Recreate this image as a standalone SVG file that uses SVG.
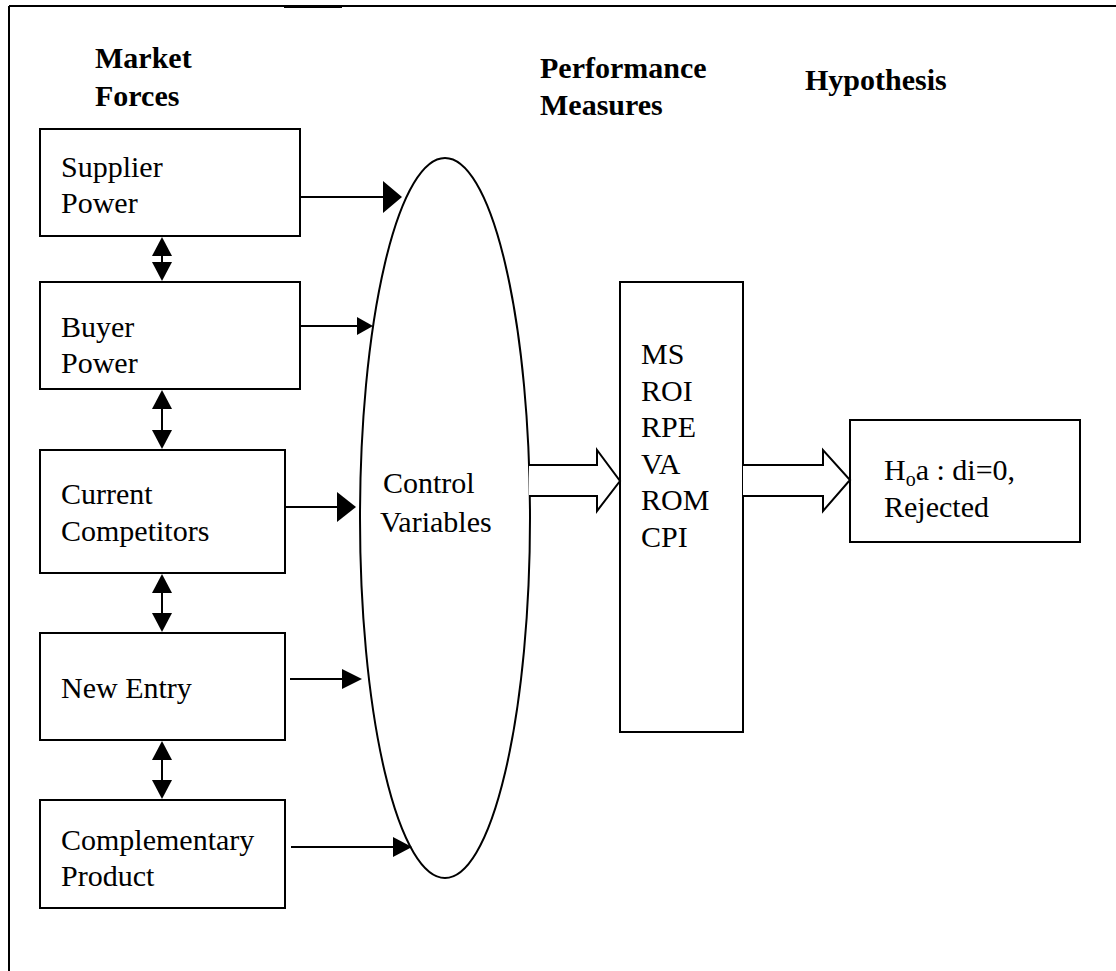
<svg xmlns="http://www.w3.org/2000/svg" width="1116" height="971" viewBox="0 0 1116 971">
<style>
.box{fill:#fff;stroke:#000;stroke-width:2}
.t{font-family:"Liberation Serif","Times New Roman",serif;font-size:30px;fill:#000}
.h{font-family:"Liberation Serif","Times New Roman",serif;font-size:30px;font-weight:bold;fill:#000}
.ln{stroke:#000;stroke-width:2;fill:none}
.blk{fill:#fff;stroke:#000;stroke-width:2;stroke-linejoin:miter}
.hd{fill:#000}
</style>
<rect x="0" y="0" width="1116" height="971" fill="#fff"/>
<g id="frame">
<line x1="9" y1="6" x2="1116" y2="6" class="ln"/>
<line x1="9" y1="6" x2="9" y2="971" class="ln"/>
<rect x="284" y="5" width="58" height="3" fill="#000"/>
</g>
<g id="headers">
<text class="h" x="95" y="68">Market</text>
<text class="h" x="95" y="106">Forces</text>
<text class="h" x="540" y="78">Performance</text>
<text class="h" x="540" y="115">Measures</text>
<text class="h" x="805" y="90">Hypothesis</text>
</g>
<g id="supplier"><rect class="box" x="40" y="129" width="260" height="107"/><text class="t" x="61" y="177">Supplier</text><text class="t" x="61" y="213">Power</text></g>
<g id="buyer"><rect class="box" x="40" y="282" width="260" height="107"/><text class="t" x="61" y="337">Buyer</text><text class="t" x="61" y="373">Power</text></g>
<g id="current"><rect class="box" x="40" y="450" width="245" height="123"/><text class="t" x="61" y="504">Current</text><text class="t" x="61" y="541">Competitors</text></g>
<g id="newentry"><rect class="box" x="40" y="633" width="245" height="107"/><text class="t" x="61" y="698">New Entry</text></g>
<g id="complementary"><rect class="box" x="40" y="800" width="245" height="108"/><text class="t" x="61" y="850">Complementary</text><text class="t" x="61" y="886">Product</text></g>
<g id="control"><ellipse cx="445" cy="518" rx="85" ry="360" fill="#fff" stroke="#000" stroke-width="2"/><text class="t" x="383" y="493">Control</text><text class="t" x="380" y="532">Variables</text></g>
<g id="performance"><rect class="box" x="620" y="282" width="123" height="450"/>
<text class="t" x="641" y="364">MS</text><text class="t" x="641" y="401">ROI</text><text class="t" x="641" y="437">RPE</text><text class="t" x="641" y="474">VA</text><text class="t" x="641" y="510">ROM</text><text class="t" x="641" y="547">CPI</text></g>
<g id="hypothesis"><rect class="box" x="850" y="420" width="230" height="122"/>
<text class="t" x="884" y="480">H<tspan font-size="20" dy="6">o</tspan><tspan dy="-6">a : di=0,</tspan></text>
<text class="t" x="884" y="517">Rejected</text></g>
<g id="connectors">
<line class="ln" x1="300" y1="197" x2="384" y2="197"/><polygon class="hd" points="383,181 402,197 383,213"/>
<line class="ln" x1="300" y1="326" x2="358" y2="326"/><polygon class="hd" points="357,317 373,326 357,335"/>
<line class="ln" x1="285" y1="507" x2="338" y2="507"/><polygon class="hd" points="337,492 356,507 337,522"/>
<line class="ln" x1="290" y1="679" x2="343" y2="679"/><polygon class="hd" points="342,669 362,679 342,689"/>
<line class="ln" x1="291" y1="847" x2="394" y2="847"/><polygon class="hd" points="393,837 412,847 393,857"/>
<line class="ln" x1="162" y1="250" x2="162" y2="268"/><polygon class="hd" points="162,237 172,256 152,256"/><polygon class="hd" points="152,262 172,262 162,281"/>
<line class="ln" x1="162" y1="405" x2="162" y2="434"/><polygon class="hd" points="162,390 172,409 152,409"/><polygon class="hd" points="152,430 172,430 162,449"/>
<line class="ln" x1="162" y1="588" x2="162" y2="618"/><polygon class="hd" points="162,574 172,593 152,593"/><polygon class="hd" points="152,613 172,613 162,632"/>
<line class="ln" x1="162" y1="755" x2="162" y2="785"/><polygon class="hd" points="162,741 172,760 152,760"/><polygon class="hd" points="152,780 172,780 162,799"/>
<polyline class="blk" points="529,465 597,465 597,450 620,481 597,511 597,496 529,496"/>
<polyline class="blk" points="743,465 823,465 823,450 850,480 823,511 823,496 743,496"/>
</g>
</svg>
